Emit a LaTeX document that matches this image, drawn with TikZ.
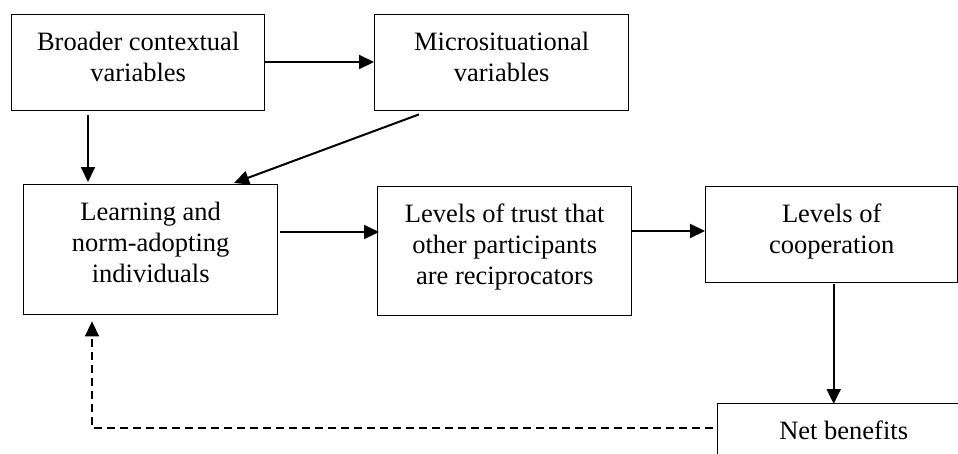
\documentclass[tikz,border=0pt]{standalone}
\usepackage{fontspec}
\setmainfont{Liberation Serif}
\usetikzlibrary{arrows.meta,calc}

% fixed-size box contents with the text set from the top
\newcommand{\boxtxt}[3]{\parbox[c][#2][t]{#1}{\centering\rule{0pt}{35.5pt}#3\par}}

\tikzset{
  flowbox/.style={draw, line width=1.4pt, inner sep=0pt, rectangle,
    font=\fontsize{26.5}{31}\selectfont},
  arr/.style={line width=2pt, -{Triangle[length=15pt,width=14pt]}},
  feedback/.style={line width=1.5pt, dash pattern=on 8pt off 5pt,
    -{Triangle[length=15pt,width=14pt]}}
}

\begin{document}
\begin{tikzpicture}[x=1pt,y=-1pt]
  \useasboundingbox (0,0) rectangle (958,453);
  \fill[white] (0,0) rectangle (958,453);
  \clip (0,0) rectangle (958,453);

  \node[flowbox, anchor=north west] (b1) at (11,14)
    {\boxtxt{253pt}{96pt}{Broader contextual\\variables}};
  \node[flowbox, anchor=north west] (b2) at (374,14)
    {\boxtxt{254pt}{96pt}{Micro\-situational\\variables}};
  \node[flowbox, anchor=north west] (b3) at (23,184)
    {\boxtxt{254pt}{130pt}{Learning and\\norm-adopting\\individuals}};
  \node[flowbox, anchor=north west] (b4) at (377,186)
    {\boxtxt{254pt}{129pt}{Levels of trust that\\other participants\\are reciprocators}};
  \node[flowbox, anchor=north west] (b5) at (705,186)
    {\boxtxt{252pt}{96pt}{Levels of\\cooperation}};
  \node[flowbox, anchor=north west] (b6) at (717,403)
    {\boxtxt{252pt}{96pt}{Net benefits}};

  % connectors
  \draw[arr] ([yshift=-48pt]b1.north east) -- ([yshift=-48pt]b1.north east -| b2.west);
  \draw[arr] ([xshift=77pt,yshift=-4pt]b1.south west) -- ([xshift=65pt,yshift=2pt]b3.north west);
  \draw[arr] ([xshift=45pt,yshift=-3pt]b2.south west) -- ([xshift=211pt,yshift=1pt]b3.north west);
  \draw[arr] ([xshift=2pt,yshift=-48pt]b3.north east) -- ([xshift=2pt,yshift=-48pt]b3.north east -| b4.west);
  \draw[arr] ([yshift=-45pt]b4.north east) -- ([yshift=-45pt]b4.north east -| b5.west);
  \draw[arr] ([xshift=2pt,yshift=-1pt]b5.south) -- ([xshift=2pt,yshift=-1pt]b5.south |- b6.north);
  \draw[feedback] ([xshift=-4pt,yshift=-25pt]b6.north west) -| ([xshift=69pt,yshift=-6pt]b3.south west);
\end{tikzpicture}
\end{document}
